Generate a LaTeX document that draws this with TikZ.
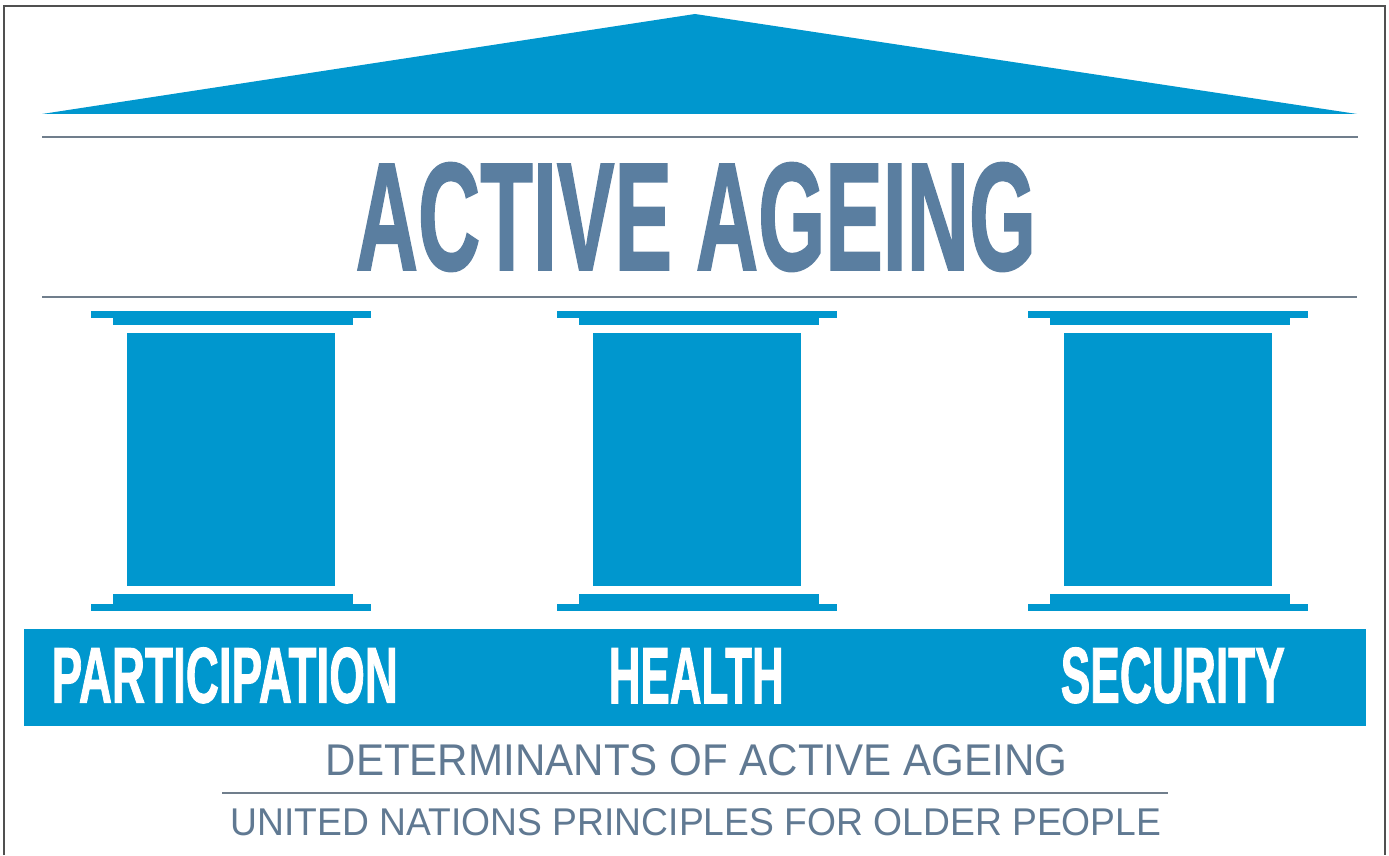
\documentclass[tikz,border=0pt]{standalone}
\usepackage{fontspec}
\setmainfont{Liberation Sans}
\newfontfamily\heavyfont{Liberation Sans Bold}[FakeBold=1.5]
\usepackage{graphicx}
\usetikzlibrary{positioning}

\definecolor{pillarblue}{RGB}{0,151,206}
\definecolor{titleblue}{RGB}{90,126,160}
\definecolor{textgray}{RGB}{96,121,146}
\definecolor{rulegray}{RGB}{112,126,140}
\definecolor{framegray}{RGB}{80,80,80}

\newcommand{\fitcaps}[3]{\resizebox{#1}{#2}{#3}}

\begin{document}
\begin{tikzpicture}[x=0.01cm, y=-0.01cm,
                    stone/.style={fill=pillarblue},
                    rule/.style={draw=rulegray, line width=0.6pt},
                    frame/.style={draw=framegray, line width=0.6pt},
                    caps/.style={inner sep=0pt, anchor=south west},
                    big label/.style={caps, text=titleblue, font=\heavyfont},
                    band label/.style={caps, text=white, font=\heavyfont},
                    small label/.style={caps, text=textgray}]

  \useasboundingbox (0,0) rectangle (1389,855);
  \draw[frame] (4,855) -- (4,6) -- (1385,6) -- (1385,855);

  \fill[stone] (42,114) -- (695,14) -- (1357,114) -- cycle;
  \draw[rule] (42,137) -- (1358,137);
  \draw[rule] (42,297) -- (1357,297);

  \node[big label] (title) at (355,272) {\fitcaps{6.80cm}{1.07cm}{ACTIVE AGEING}};

  \foreach \cx in {231,697,1168} {
    \fill[stone] (\cx-140,311) rectangle (\cx+140,318);
    \fill[stone] (\cx-118,317) rectangle (\cx+122,325);
    \fill[stone] (\cx-104,333) rectangle (\cx+104,586);
    \fill[stone] (\cx-118,594) rectangle (\cx+122,605);
    \fill[stone] (\cx-140,604) rectangle (\cx+140,611);
  }

  \fill[stone] (24,629) rectangle (1366,726);
  \node[band label] (participation) at (51,704) {\fitcaps{3.46cm}{0.55cm}{PARTICIPATION}};
  \node[band label] (health) at (608,704) {\fitcaps{1.75cm}{0.55cm}{HEALTH}};
  \node[band label] (security) at (1060,704) {\fitcaps{2.24cm}{0.55cm}{SECURITY}};

  \node[small label] (determinants) at (325,777) {\fitcaps{7.41cm}{0.31cm}{DETERMINANTS OF ACTIVE AGEING}};
  \draw[rule] (222,793) -- (1168,793);
  \node[small label] (principles) at (230,837) {\fitcaps{9.30cm}{0.27cm}{UNITED NATIONS PRINCIPLES FOR OLDER PEOPLE}};
\end{tikzpicture}
\end{document}
